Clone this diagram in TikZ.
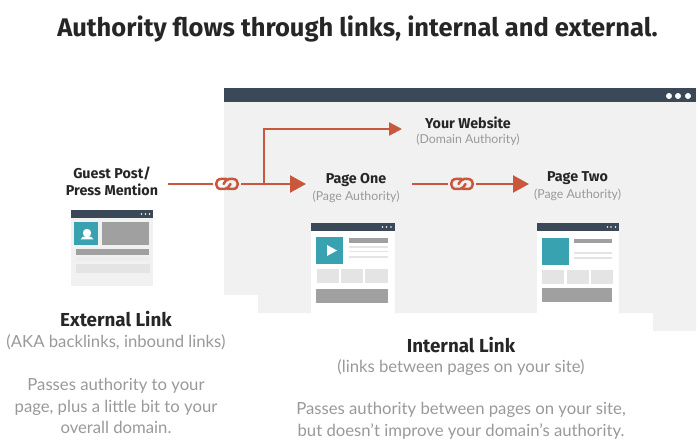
\documentclass[tikz,border=0pt]{standalone}
\usepackage{fontspec}
\setmainfont{Lato}
\newfontfamily\headfont{Fira Sans}
\usetikzlibrary{arrows.meta}
\definecolor{navy}{HTML}{3A4858}
\definecolor{rust}{HTML}{C9573C}
\definecolor{teal}{HTML}{39A2B0}
\definecolor{pale}{HTML}{F1F1F2}
\definecolor{midgray}{HTML}{A0A0A0}
\definecolor{lightbar}{HTML}{E4E4E4}
\definecolor{softtext}{HTML}{999999}
\tikzset{
	flow/.style = {draw=rust, line width=2.4pt},
	bighead/.style = {-{Triangle[length=16pt,width=17pt]}},
	smallhead/.style = {-{Triangle[length=13pt,width=13pt]}},
	heading/.style = {font=\headfont\bfseries\fontsize{14.3}{17}\selectfont, text=black!85, inner sep=0pt, align=center},
	subheading/.style = {font=\headfont\bfseries\fontsize{18.8}{22}\selectfont, text=black!85, inner sep=0pt},
	subtext/.style = {font=\fontsize{12.3}{16}\selectfont, text=softtext, inner sep=0pt, align=center},
	bodytext/.style = {font=\fontsize{16.7}{21.7}\selectfont, text=softtext, inner sep=0pt, align=center},
	chainlink/.style = {minimum width=28pt, minimum height=18pt, inner sep=0pt, outer sep=0pt, path picture={
		\begin{scope}[shift={(path picture bounding box.center)}, x=1pt, y=1pt, rust, line width=2.5pt, line cap=round]
			\draw (-0.5,5) -- (-6,5) .. controls (-12.5,5) and (-12.5,-5) .. (-6,-5) -- (-2,-5) .. controls (1,-5) and (2,-2) .. (3.5,0);
			\draw (0.5,-5) -- (6,-5) .. controls (12.5,-5) and (12.5,5) .. (6,5) -- (2,5) .. controls (-1,5) and (-2,2) .. (-3.5,0);
		\end{scope}
	}},
}
\begin{document}
\begin{tikzpicture}[x=1pt,y=-1pt]
	\useasboundingbox (0,0) rectangle (700,443);
	% site background
	\fill[pale] (224,88) -- (696,88) -- (696,331) -- (653,331) -- (653,313) -- (258,313) -- (258,295) -- (224,295) -- cycle;
	\fill[navy] (224,88) rectangle (696,102);
	\foreach \x in {669,678,688}
		\fill[white] (\x,96) circle (3pt);
	% guest post card
	\fill[pale] (71,210) rectangle (153,286);
	\fill[navy] (71,210) rectangle (153,218);
	\foreach \x in {141.5,145.5,149.5}
		\fill[white] (\x,214) circle (0.9pt);
	\fill[teal] (74,222) rectangle (98,245);
	\fill[white] (87,233) circle (4.2pt);
	\fill[white] (80.5,239.5) .. controls (81,235) and (93,235) .. (93.5,239.5) -- cycle;
	\fill[midgray] (102,222) rectangle (149,245);
	\fill[midgray] (76,249) rectangle (149,255);
	\fill[black!7] (76,257) rectangle (150,261);
	\fill[lightbar] (76,264) rectangle (150,273);
	% page one card
	\fill[white] (311,223) rectangle (395,313);
	\fill[navy] (311,223) rectangle (395,231);
	\foreach \x in {382.5,386.5,391}
		\fill[white] (\x,227) circle (0.9pt);
	\fill[teal] (316,237) rectangle (343,264);
	\fill[white] (327,245) -- (337,250.5) -- (327,256) -- cycle;
	\fill[midgray] (349,238) rectangle (388,243);
	\foreach \y in {247,251.5,257}
		\fill[lightbar] (349,\y-0.8) rectangle (388,\y+0.8);
	\fill[lightbar] (317,269) rectangle (339,283);
	\fill[lightbar] (341,269) rectangle (363,283);
	\fill[lightbar] (365,269) rectangle (388,283);
	\fill[midgray] (316,289) rectangle (388,303);
	% page two card
	\fill[white] (537,223) rectangle (619,313);
	\fill[navy] (537,223) rectangle (619,231.5);
	\foreach \x in {607.5,611,615.5}
		\fill[white] (\x,227) circle (0.9pt);
	\fill[teal] (542,238) rectangle (569,265);
	\fill[midgray] (574,239) rectangle (612,243);
	\foreach \y in {253,258}
		\fill[lightbar] (574,\y-0.8) rectangle (612,\y+0.8);
	\fill[lightbar] (542,270) rectangle (564,284);
	\fill[lightbar] (567,270) rectangle (589,284);
	\fill[lightbar] (591,270) rectangle (613,284);
	\fill[midgray] (542,288) rectangle (612,302);
	% labels
	\node[font=\headfont\bfseries\fontsize{25.5}{30}\selectfont, text=black!85, inner sep=0pt] (title) at (357.5,29) {Authority flows through links, internal and external.};
	\node[heading] (guest) at (112,181) {Guest Post/\\Press Mention};
	\node[heading] (website) at (468,123) {Your Website};
	\node[subtext] (websitesub) at (468,140) {(Domain Authority)};
	\node[heading] (pageone) at (356,180) {Page One};
	\node[subtext] (pageonesub) at (356,197) {(Page Authority)};
	\node[heading] (pagetwo) at (577.5,178) {Page Two};
	\node[subtext] (pagetwosub) at (577.5,195) {(Page Authority)};
	\node[subheading] (external) at (116,319) {External Link};
	\node[bodytext] (externalsub) at (116,342) {(AKA backlinks, inbound links)};
	\node[bodytext] (externalbody) at (116,406) {Passes authority to your\\page, plus a little bit to your\\overall domain.};
	\node[subheading] (internal) at (461,345) {Internal Link};
	\node[bodytext] (internalsub) at (461,368) {(links between pages on your site)};
	\node[bodytext] (internalbody) at (461,421) {Passes authority between pages on your site,\\but doesn't improve your domain's authority.};
	% links and arrows
	\node[chainlink] (linkone) at (227,184) {};
	\node[chainlink] (linktwo) at (462,184) {};
	\coordinate (guestout) at (168,184);
	\coordinate (tipone) at (306,184);
	\coordinate (branch) at (264,184);
	\coordinate (tipsite) at (402,129);
	\coordinate (twoout) at (412,184);
	\coordinate (tiptwo) at (529,184);
	\draw[flow] (guestout) -- (linkone);
	\draw[flow,bighead] (linkone) -- (tipone);
	\draw[flow,smallhead] (branch) |- (tipsite);
	\draw[flow] (twoout) -- (linktwo);
	\draw[flow,bighead] (linktwo) -- (tiptwo);
\end{tikzpicture}
\end{document}
